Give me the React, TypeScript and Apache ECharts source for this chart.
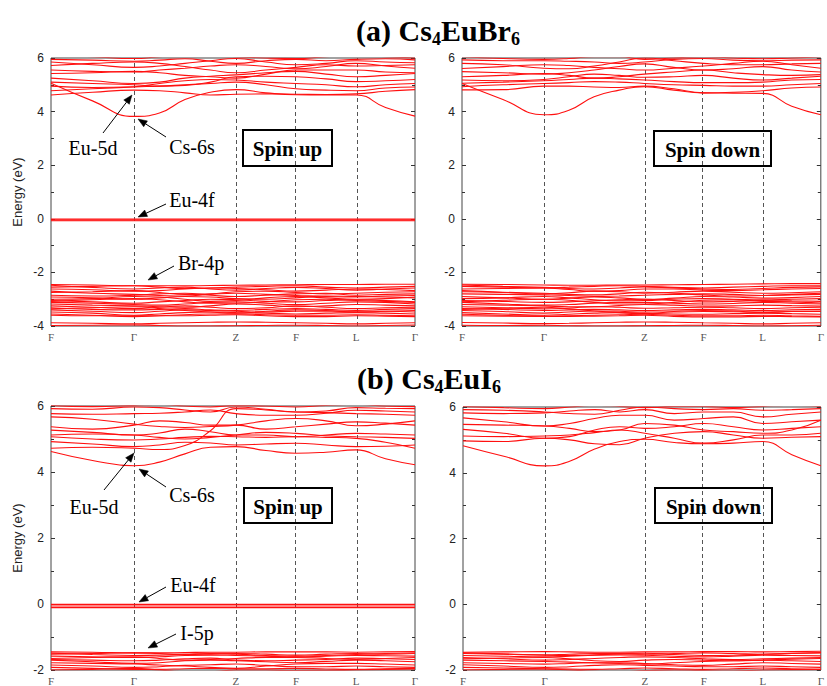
import React, { useEffect, useRef } from 'react';
import * as echarts from 'echarts';

// high-symmetry points along the path (normalized path length) and their labels
const kPoints = [0, 0.228, 0.508, 0.673, 0.838, 1.0];
const kLabels = ['F', 'Γ', 'Z', 'F', 'L', 'Γ'];
// sample positions along the path at which band energies are read
const kPath = [0, 0.114, 0.228, 0.298, 0.368, 0.438, 0.508, 0.5905, 0.673, 0.7555, 0.838, 0.919, 1.0];

// ---------- (a) Cs4EuBr6, spin up ----------
const brUpCond = [
  [5.06, 4.40, 3.82, 3.95, 4.45, 4.72, 4.82, 4.70, 4.63, 4.62, 4.62, 4.15, 3.83],
  [4.62, 4.72, 4.80, 4.78, 4.70, 4.62, 4.65, 4.66, 4.65, 4.64, 4.66, 4.76, 4.82],
  [4.78, 4.85, 4.92, 4.95, 5.00, 5.05, 5.10, 5.00, 4.85, 4.80, 4.78, 4.88, 4.92],
  [4.95, 4.90, 4.93, 5.05, 5.15, 5.20, 5.18, 5.10, 5.05, 5.00, 4.93, 5.00, 5.05],
  [5.10, 5.05, 5.00, 4.95, 4.98, 5.10, 5.30, 5.32, 5.30, 5.22, 5.12, 5.15, 5.20],
  [5.25, 5.15, 5.05, 5.10, 5.25, 5.32, 5.37, 5.45, 5.50, 5.40, 5.30, 5.35, 5.42],
  [5.42, 5.45, 5.50, 5.45, 5.35, 5.30, 5.25, 5.40, 5.55, 5.55, 5.55, 5.48, 5.45],
  [5.55, 5.50, 5.48, 5.55, 5.62, 5.70, 5.75, 5.68, 5.60, 5.68, 5.80, 5.70, 5.62],
  [5.72, 5.80, 5.85, 5.80, 5.68, 5.55, 5.45, 5.55, 5.65, 5.75, 5.70, 5.72, 5.75],
  [5.85, 5.75, 5.65, 5.70, 5.80, 5.90, 5.98, 5.85, 5.75, 5.80, 5.90, 5.85, 5.82],
  [5.95, 5.92, 5.88, 5.92, 5.97, 5.88, 5.80, 5.90, 5.95, 5.90, 5.95, 5.97, 5.93],
  [6.10, 6.05, 5.98, 6.05, 6.10, 6.10, 6.05, 6.00, 5.98, 6.05, 6.10, 6.05, 6.00],
];
const brUpF = [
  [-0.01, -0.01, -0.01, -0.01, -0.01, -0.01, -0.01, -0.01, -0.01, -0.01, -0.01, -0.01, -0.01],
  [-0.04, -0.04, -0.04, -0.04, -0.04, -0.04, -0.04, -0.04, -0.04, -0.04, -0.04, -0.04, -0.04],
  [-0.07, -0.07, -0.07, -0.07, -0.07, -0.07, -0.07, -0.07, -0.07, -0.07, -0.07, -0.07, -0.07],
];
const brUpVal = [
  [-2.45, -2.47, -2.50, -2.50, -2.50, -2.49, -2.48, -2.47, -2.46, -2.45, -2.45, -2.44, -2.44],
  [-2.48, -2.56, -2.62, -2.58, -2.55, -2.62, -2.66, -2.60, -2.56, -2.60, -2.66, -2.62, -2.58],
  [-2.55, -2.52, -2.50, -2.55, -2.60, -2.58, -2.55, -2.52, -2.50, -2.55, -2.58, -2.55, -2.52],
  [-2.62, -2.65, -2.70, -2.68, -2.62, -2.58, -2.60, -2.65, -2.70, -2.66, -2.62, -2.64, -2.68],
  [-2.70, -2.78, -2.82, -2.86, -2.88, -2.82, -2.78, -2.82, -2.86, -2.90, -2.92, -2.88, -2.86],
  [-2.75, -2.72, -2.68, -2.75, -2.82, -2.80, -2.72, -2.70, -2.75, -2.80, -2.78, -2.74, -2.72],
  [-2.85, -2.88, -2.85, -2.80, -2.78, -2.85, -2.90, -2.85, -2.80, -2.78, -2.85, -2.82, -2.80],
  [-2.92, -2.95, -3.00, -2.95, -2.90, -2.92, -2.98, -3.00, -2.95, -2.88, -2.90, -2.92, -2.95],
  [-3.00, -2.98, -2.90, -2.92, -3.00, -3.08, -3.05, -2.95, -2.90, -2.95, -3.00, -2.98, -2.92],
  [-3.05, -3.10, -3.15, -3.10, -3.05, -3.00, -3.02, -3.08, -3.10, -3.05, -3.02, -3.05, -3.10],
  [-3.08, -3.02, -2.98, -3.02, -3.10, -3.15, -3.15, -3.10, -3.02, -3.00, -3.05, -3.08, -3.12],
  [-3.12, -3.15, -3.20, -3.22, -3.18, -3.12, -3.10, -3.15, -3.20, -3.15, -3.10, -3.12, -3.18],
  [-3.18, -3.22, -3.25, -3.28, -3.30, -3.25, -3.18, -3.22, -3.28, -3.25, -3.20, -3.22, -3.25],
  [-3.25, -3.30, -3.35, -3.30, -3.25, -3.30, -3.35, -3.32, -3.25, -3.30, -3.35, -3.32, -3.30],
  [-3.32, -3.38, -3.40, -3.38, -3.35, -3.40, -3.42, -3.38, -3.35, -3.38, -3.42, -3.38, -3.35],
  [-3.36, -3.32, -3.28, -3.35, -3.42, -3.48, -3.52, -3.45, -3.40, -3.42, -3.48, -3.45, -3.42],
  [-3.40, -3.45, -3.50, -3.45, -3.40, -3.42, -3.45, -3.48, -3.45, -3.45, -3.45, -3.45, -3.48],
  [-3.48, -3.52, -3.60, -3.55, -3.50, -3.48, -3.50, -3.52, -3.55, -3.52, -3.50, -3.52, -3.55],
  [-3.55, -3.60, -3.65, -3.62, -3.58, -3.55, -3.55, -3.58, -3.60, -3.60, -3.58, -3.60, -3.62],
  [-3.60, -3.62, -3.62, -3.62, -3.62, -3.60, -3.58, -3.62, -3.65, -3.65, -3.62, -3.63, -3.65],
  [-3.88, -3.90, -3.92, -3.90, -3.88, -3.86, -3.85, -3.86, -3.88, -3.90, -3.92, -3.90, -3.88],
  [-3.98, -3.97, -3.96, -3.98, -4.00, -4.00, -3.99, -3.98, -3.97, -3.98, -4.00, -3.98, -3.96],
];

// ---------- (a) Cs4EuBr6, spin down ----------
const brDownCond = [
  [5.05, 4.45, 3.88, 4.05, 4.55, 4.80, 4.93, 4.80, 4.70, 4.69, 4.68, 4.20, 3.88],
  [4.81, 4.82, 4.95, 4.95, 4.92, 4.90, 4.95, 4.85, 4.70, 4.72, 4.78, 4.88, 4.92],
  [4.93, 5.00, 5.05, 5.08, 5.12, 5.10, 5.05, 5.00, 4.98, 4.95, 4.95, 5.00, 5.05],
  [5.06, 5.10, 5.15, 5.20, 5.25, 5.22, 5.18, 5.12, 5.08, 5.08, 5.10, 5.18, 5.20],
  [5.18, 5.15, 5.20, 5.30, 5.40, 5.35, 5.28, 5.30, 5.35, 5.25, 5.18, 5.25, 5.32],
  [5.30, 5.35, 5.42, 5.35, 5.25, 5.30, 5.40, 5.48, 5.55, 5.45, 5.38, 5.35, 5.38],
  [5.49, 5.45, 5.40, 5.45, 5.55, 5.68, 5.78, 5.65, 5.55, 5.60, 5.68, 5.55, 5.48],
  [5.61, 5.68, 5.75, 5.72, 5.65, 5.60, 5.55, 5.62, 5.70, 5.80, 5.88, 5.75, 5.62],
  [5.80, 5.75, 5.62, 5.60, 5.70, 5.85, 6.00, 5.90, 5.80, 5.75, 5.75, 5.78, 5.80],
  [5.93, 5.90, 5.90, 5.88, 5.85, 5.80, 5.85, 5.95, 5.98, 5.92, 5.90, 5.92, 5.93],
  [6.05, 5.98, 5.95, 5.98, 6.05, 6.05, 5.95, 6.00, 6.05, 6.00, 5.97, 6.00, 6.05],
];
const brDownVal = [
  [-2.44, -2.45, -2.47, -2.48, -2.48, -2.47, -2.47, -2.46, -2.45, -2.44, -2.43, -2.42, -2.42],
  [-2.47, -2.52, -2.56, -2.60, -2.62, -2.58, -2.54, -2.58, -2.62, -2.64, -2.60, -2.56, -2.54],
  [-2.52, -2.55, -2.58, -2.55, -2.52, -2.50, -2.52, -2.56, -2.58, -2.55, -2.52, -2.50, -2.50],
  [-2.62, -2.60, -2.58, -2.64, -2.70, -2.68, -2.62, -2.62, -2.66, -2.68, -2.65, -2.62, -2.60],
  [-2.68, -2.74, -2.78, -2.82, -2.84, -2.80, -2.74, -2.78, -2.84, -2.88, -2.86, -2.82, -2.78],
  [-2.72, -2.75, -2.80, -2.76, -2.70, -2.72, -2.78, -2.74, -2.70, -2.74, -2.78, -2.76, -2.72],
  [-2.80, -2.82, -2.84, -2.86, -2.90, -2.88, -2.85, -2.82, -2.80, -2.82, -2.86, -2.84, -2.82],
  [-2.90, -2.95, -3.00, -2.96, -2.92, -2.95, -3.00, -2.96, -2.90, -2.92, -2.96, -2.94, -2.90],
  [-2.98, -2.95, -2.90, -2.95, -3.02, -3.06, -3.05, -3.00, -2.98, -3.00, -3.02, -3.00, -2.98],
  [-3.05, -3.08, -3.12, -3.10, -3.06, -3.02, -3.00, -3.05, -3.10, -3.08, -3.05, -3.06, -3.08],
  [-3.10, -3.04, -3.00, -3.04, -3.12, -3.18, -3.18, -3.12, -3.04, -3.02, -3.08, -3.10, -3.14],
  [-3.12, -3.18, -3.22, -3.20, -3.15, -3.12, -3.12, -3.15, -3.18, -3.16, -3.12, -3.15, -3.18],
  [-3.20, -3.22, -3.25, -3.28, -3.28, -3.24, -3.20, -3.22, -3.26, -3.25, -3.22, -3.24, -3.26],
  [-3.28, -3.32, -3.36, -3.33, -3.28, -3.30, -3.34, -3.32, -3.30, -3.32, -3.35, -3.32, -3.30],
  [-3.35, -3.38, -3.42, -3.40, -3.38, -3.40, -3.42, -3.40, -3.38, -3.40, -3.42, -3.40, -3.38],
  [-3.38, -3.34, -3.30, -3.36, -3.44, -3.50, -3.54, -3.46, -3.42, -3.44, -3.50, -3.46, -3.44],
  [-3.42, -3.46, -3.52, -3.48, -3.44, -3.45, -3.48, -3.48, -3.46, -3.47, -3.48, -3.46, -3.46],
  [-3.50, -3.55, -3.60, -3.56, -3.52, -3.50, -3.52, -3.55, -3.56, -3.54, -3.52, -3.54, -3.56],
  [-3.56, -3.60, -3.64, -3.62, -3.60, -3.58, -3.56, -3.60, -3.62, -3.62, -3.60, -3.62, -3.64],
  [-3.62, -3.63, -3.64, -3.64, -3.63, -3.62, -3.60, -3.64, -3.66, -3.66, -3.64, -3.65, -3.66],
  [-3.87, -3.89, -3.91, -3.90, -3.88, -3.86, -3.85, -3.86, -3.88, -3.90, -3.92, -3.90, -3.88],
  [-3.97, -3.98, -3.97, -3.99, -4.00, -4.00, -3.99, -3.98, -3.97, -3.98, -4.00, -3.99, -3.97],
];

// ---------- (b) Cs4EuI6, spin up ----------
const iUpCond = [
  [4.62, 4.35, 4.19, 4.30, 4.55, 4.75, 4.77, 4.65, 4.57, 4.60, 4.67, 4.40, 4.22],
  [4.72, 4.75, 4.72, 4.68, 4.80, 5.25, 5.92, 5.88, 5.82, 5.80, 5.77, 5.75, 5.72],
  [4.92, 4.85, 4.77, 4.82, 4.90, 4.88, 4.82, 4.85, 4.87, 4.82, 4.77, 4.78, 4.82],
  [5.07, 5.00, 4.97, 5.00, 5.05, 5.08, 5.07, 5.05, 5.07, 5.05, 5.02, 4.90, 4.72],
  [5.12, 5.15, 5.12, 5.05, 5.00, 5.05, 5.12, 5.20, 5.17, 5.10, 5.07, 5.05, 5.02],
  [5.27, 5.20, 5.12, 5.18, 5.30, 5.22, 5.12, 5.12, 5.07, 5.12, 5.17, 5.15, 5.12],
  [5.37, 5.30, 5.42, 5.55, 5.50, 5.42, 5.42, 5.30, 5.37, 5.45, 5.52, 5.48, 5.42],
  [5.67, 5.60, 5.45, 5.38, 5.35, 5.38, 5.42, 5.55, 5.62, 5.55, 5.40, 5.45, 5.55],
  [5.77, 5.75, 5.77, 5.78, 5.82, 5.88, 5.77, 5.72, 5.72, 5.78, 5.87, 5.85, 5.82],
  [5.92, 5.90, 5.97, 5.95, 5.88, 5.82, 5.97, 5.90, 5.82, 5.85, 5.95, 5.93, 5.92],
  [6.02, 5.98, 6.02, 6.05, 6.00, 5.97, 6.02, 6.00, 5.97, 6.02, 6.05, 6.00, 5.98],
];
const iUpF = [
  [-0.01, -0.01, -0.01, -0.01, -0.01, -0.01, -0.01, -0.01, -0.01, -0.01, -0.01, -0.01, -0.01],
  [-0.06, -0.06, -0.06, -0.06, -0.06, -0.06, -0.06, -0.06, -0.06, -0.06, -0.06, -0.06, -0.06],
  [-0.11, -0.11, -0.11, -0.11, -0.11, -0.11, -0.11, -0.11, -0.11, -0.11, -0.11, -0.11, -0.11],
];
const iUpVal = [
  [-1.45, -1.46, -1.48, -1.48, -1.47, -1.46, -1.46, -1.45, -1.45, -1.45, -1.46, -1.45, -1.44],
  [-1.49, -1.53, -1.56, -1.55, -1.52, -1.50, -1.52, -1.56, -1.58, -1.56, -1.53, -1.50, -1.48],
  [-1.52, -1.50, -1.48, -1.50, -1.53, -1.52, -1.50, -1.52, -1.55, -1.52, -1.50, -1.52, -1.50],
  [-1.58, -1.60, -1.62, -1.60, -1.56, -1.55, -1.56, -1.58, -1.60, -1.58, -1.56, -1.57, -1.58],
  [-1.65, -1.62, -1.60, -1.65, -1.70, -1.68, -1.65, -1.62, -1.62, -1.65, -1.68, -1.65, -1.62],
  [-1.68, -1.70, -1.72, -1.70, -1.66, -1.64, -1.70, -1.72, -1.70, -1.68, -1.64, -1.66, -1.68],
  [-1.70, -1.75, -1.80, -1.78, -1.72, -1.70, -1.72, -1.75, -1.78, -1.74, -1.70, -1.72, -1.75],
  [-1.78, -1.80, -1.82, -1.85, -1.88, -1.92, -1.95, -1.88, -1.82, -1.80, -1.80, -1.82, -1.85],
  [-1.85, -1.88, -1.92, -1.90, -1.86, -1.84, -1.82, -1.86, -1.90, -1.90, -1.88, -1.90, -1.92],
  [-1.92, -1.95, -1.98, -1.98, -1.96, -1.95, -1.96, -1.96, -1.95, -1.97, -1.98, -1.96, -1.95],
  [-2.00, -1.98, -1.95, -2.00, -2.05, -2.05, -2.00, -2.00, -2.02, -2.02, -2.00, -1.98, -1.97],
];

// ---------- (b) Cs4EuI6, spin down ----------
const iDownCond = [
  [4.82, 4.50, 4.21, 4.35, 4.72, 4.95, 5.02, 4.92, 4.88, 4.90, 4.95, 4.55, 4.21],
  [4.97, 4.95, 5.05, 5.00, 4.88, 4.85, 5.05, 5.20, 5.25, 5.15, 5.05, 5.08, 5.10],
  [5.12, 5.10, 5.12, 5.15, 5.22, 5.30, 5.20, 5.05, 4.90, 5.00, 5.15, 5.15, 5.20],
  [5.32, 5.20, 5.05, 5.10, 5.30, 5.40, 5.35, 5.40, 5.50, 5.40, 5.30, 5.35, 5.40],
  [5.47, 5.45, 5.42, 5.35, 5.25, 5.30, 5.50, 5.45, 5.30, 5.25, 5.20, 5.30, 5.60],
  [5.67, 5.55, 5.42, 5.50, 5.65, 5.75, 5.75, 5.60, 5.65, 5.70, 5.50, 5.55, 5.60],
  [5.82, 5.80, 5.82, 5.88, 5.92, 5.85, 5.92, 5.80, 5.85, 5.85, 5.70, 5.78, 5.85],
  [5.92, 5.90, 5.85, 5.80, 5.78, 5.90, 6.00, 5.95, 5.92, 5.95, 5.90, 5.92, 5.95],
  [6.02, 5.98, 5.95, 6.00, 6.05, 6.02, 5.98, 6.02, 6.02, 5.98, 6.02, 6.05, 6.02],
];
const iDownVal = [
  [-1.46, -1.45, -1.44, -1.45, -1.46, -1.46, -1.45, -1.45, -1.44, -1.44, -1.45, -1.44, -1.43],
  [-1.48, -1.51, -1.55, -1.56, -1.54, -1.51, -1.49, -1.53, -1.56, -1.55, -1.52, -1.49, -1.47],
  [-1.50, -1.52, -1.54, -1.52, -1.50, -1.50, -1.52, -1.50, -1.48, -1.50, -1.52, -1.50, -1.48],
  [-1.56, -1.58, -1.60, -1.58, -1.55, -1.54, -1.55, -1.58, -1.60, -1.58, -1.55, -1.56, -1.57],
  [-1.62, -1.66, -1.70, -1.68, -1.65, -1.62, -1.60, -1.62, -1.66, -1.68, -1.66, -1.64, -1.62],
  [-1.66, -1.64, -1.62, -1.66, -1.72, -1.74, -1.70, -1.68, -1.70, -1.72, -1.70, -1.67, -1.65],
  [-1.70, -1.72, -1.74, -1.76, -1.78, -1.80, -1.82, -1.78, -1.74, -1.72, -1.70, -1.72, -1.74],
  [-1.78, -1.80, -1.82, -1.80, -1.78, -1.78, -1.80, -1.84, -1.86, -1.82, -1.78, -1.80, -1.82],
  [-1.84, -1.88, -1.92, -1.90, -1.86, -1.84, -1.86, -1.88, -1.90, -1.90, -1.88, -1.90, -1.92],
  [-1.92, -1.94, -1.96, -1.97, -1.98, -1.96, -1.94, -1.96, -1.98, -1.96, -1.94, -1.96, -1.98],
  [-2.00, -1.98, -1.97, -2.00, -2.04, -2.05, -2.02, -2.00, -2.02, -2.03, -2.00, -1.99, -1.98],
];

const SERIF = '"Liberation Serif", "Times New Roman", Times, serif';
const SANS = '"Liberation Sans", Arial, Helvetica, sans-serif';
const RED = '#ff1010';

const panels = [
  { grid: { left: 51, top: 58, width: 364, height: 268 }, yMin: -4, yMax: 6, showName: true, bands: [...brUpCond, ...brUpF, ...brUpVal] },
  { grid: { left: 462, top: 58, width: 364, height: 268 }, yMin: -4, yMax: 6, showName: false, bands: [...brDownCond, ...brDownVal] },
  { grid: { left: 51, top: 406, width: 364, height: 267 }, yMin: -2, yMax: 6, showName: true, bands: [...iUpCond, ...iUpF, ...iUpVal] },
  { grid: { left: 463, top: 407, width: 363, height: 268 }, yMin: -2, yMax: 6, showName: false, bands: [...iDownCond, ...iDownVal] },
];

const boxes = [
  { x: 243, y: 130, w: 89, h: 36, text: 'Spin up' },
  { x: 654, y: 131, w: 117, h: 35, text: 'Spin down' },
  { x: 244, y: 488, w: 88, h: 35, text: 'Spin up' },
  { x: 655, y: 488, w: 117, h: 35, text: 'Spin down' },
];

const notes = [
  { text: 'Eu-5d', x: 93, y: 148, from: [103, 133], to: [132, 95] },
  { text: 'Cs-6s', x: 192, y: 147, from: [166, 137], to: [138, 119] },
  { text: 'Eu-4f', x: 192, y: 200, from: [166, 204], to: [138, 217] },
  { text: 'Br-4p', x: 201, y: 263, from: [174, 266], to: [148, 280] },
  { text: 'Eu-5d', x: 94, y: 507, from: [104, 490], to: [134, 453] },
  { text: 'Cs-6s', x: 192, y: 495, from: [166, 487], to: [139, 469] },
  { text: 'Eu-4f', x: 193, y: 585, from: [166, 587], to: [139, 602] },
  { text: 'I-5p', x: 197, y: 633, from: [176, 634], to: [148, 648] },
];

function arrow(from: number[], to: number[]) {
  const [x1, y1] = from;
  const [x2, y2] = to;
  const ang = Math.atan2(y2 - y1, x2 - x1);
  const L = 9;
  const W = 3.5;
  const bx = x2 - L * Math.cos(ang);
  const by = y2 - L * Math.sin(ang);
  const px = -Math.sin(ang) * W;
  const py = Math.cos(ang) * W;
  return [
    { type: 'line', shape: { x1, y1, x2: bx, y2: by }, style: { stroke: '#000', lineWidth: 1 } },
    {
      type: 'polygon',
      shape: { points: [[x2, y2], [bx + px, by + py], [bx - px, by - py]] },
      style: { fill: '#000', stroke: '#000', lineWidth: 0.5 },
    },
  ];
}

function labelFor(v: number) {
  let best = 0;
  for (let i = 1; i < kPoints.length; i++) {
    if (Math.abs(kPoints[i] - v) < Math.abs(kPoints[best] - v)) best = i;
  }
  return kLabels[best];
}

function buildOption() {
  const grid: any[] = [];
  const xAxis: any[] = [];
  const yAxis: any[] = [];
  const series: any[] = [];

  panels.forEach((p, i) => {
    grid.push({ ...p.grid, show: true, borderColor: '#444', borderWidth: 1, backgroundColor: 'transparent' });
    xAxis.push({
      type: 'value',
      gridIndex: i,
      min: 0,
      max: 1,
      axisLine: { show: false },
      axisTick: { show: false },
      splitLine: { show: false },
      axisLabel: {
        customValues: kPoints,
        formatter: (v: number) => labelFor(v),
        fontFamily: SERIF,
        fontSize: 11,
        color: '#555',
        margin: 5,
      },
    });
    const tickStyle = { color: '#333', width: 1 };
    yAxis.push({
      type: 'value',
      gridIndex: i,
      min: p.yMin,
      max: p.yMax,
      interval: 2,
      position: 'left',
      name: p.showName ? 'Energy (eV)' : '',
      nameLocation: 'middle',
      nameGap: 27,
      nameTextStyle: { fontFamily: SANS, fontSize: 13, color: '#222' },
      axisLine: { show: false },
      axisTick: { show: true, inside: true, length: 4, lineStyle: tickStyle },
      minorTick: { show: true, splitNumber: 2, length: 3, lineStyle: tickStyle },
      splitLine: { show: false },
      minorSplitLine: { show: false },
      axisLabel: { fontFamily: SANS, fontSize: 12, color: '#222', margin: 7 },
    });
    yAxis.push({
      type: 'value',
      gridIndex: i,
      min: p.yMin,
      max: p.yMax,
      interval: 2,
      position: 'right',
      axisLine: { show: false },
      axisTick: { show: true, inside: true, length: 4, lineStyle: tickStyle },
      minorTick: { show: true, splitNumber: 2, length: 3, lineStyle: tickStyle },
      splitLine: { show: false },
      axisLabel: { show: false },
    });

    p.bands.forEach((band, b) => {
      const s: any = {
        type: 'line',
        xAxisIndex: i,
        yAxisIndex: 2 * i,
        data: kPath.map((k, j) => [k, band[j]]),
        smooth: 0.5,
        symbol: 'none',
        silent: true,
        clip: true,
        lineStyle: { color: RED, width: 1.1 },
        z: 3,
      };
      if (b === 0) {
        s.markLine = {
          symbol: 'none',
          silent: true,
          label: { show: false },
          lineStyle: { type: [4, 3], color: '#555', width: 1 },
          data: kPoints.slice(1, 5).map((v) => ({ xAxis: v })),
          z: 2,
        };
      }
      series.push(s);
    });
  });

  const graphic: any[] = [];
  const titleRich = {
    s: { fontFamily: SERIF, fontSize: 18, fontWeight: 'bold', fill: '#000', padding: [18, 0, 0, 0] },
  };
  graphic.push({
    type: 'text',
    x: 438,
    y: 30,
    style: {
      text: '(a) Cs{s|4}EuBr{s|6}',
      rich: titleRich,
      fontFamily: SERIF,
      fontSize: 30,
      fontWeight: 'bold',
      fill: '#000',
      align: 'center',
      verticalAlign: 'middle',
    },
  });
  graphic.push({
    type: 'text',
    x: 429,
    y: 378,
    style: {
      text: '(b) Cs{s|4}EuI{s|6}',
      rich: titleRich,
      fontFamily: SERIF,
      fontSize: 30,
      fontWeight: 'bold',
      fill: '#000',
      align: 'center',
      verticalAlign: 'middle',
    },
  });

  boxes.forEach((bx) => {
    graphic.push({
      type: 'rect',
      shape: { x: bx.x, y: bx.y, width: bx.w, height: bx.h },
      style: { fill: 'none', stroke: '#000', lineWidth: 2 },
      z: 10,
    });
    graphic.push({
      type: 'text',
      x: bx.x + bx.w / 2,
      y: bx.y + bx.h / 2 + 1,
      style: {
        text: bx.text,
        fontFamily: SERIF,
        fontSize: 21,
        fontWeight: 'bold',
        fill: '#000',
        align: 'center',
        verticalAlign: 'middle',
      },
      z: 10,
    });
  });

  notes.forEach((n) => {
    graphic.push({
      type: 'text',
      x: n.x,
      y: n.y,
      style: {
        text: n.text,
        fontFamily: SERIF,
        fontSize: 20,
        fill: '#000',
        align: 'center',
        verticalAlign: 'middle',
      },
      z: 10,
    });
    arrow(n.from, n.to).forEach((g) => graphic.push({ ...g, z: 10 }));
  });

  return {
    animation: false,
    backgroundColor: '#fff',
    grid,
    xAxis,
    yAxis,
    series,
    graphic,
  };
}

export default function App() {
  const ref = useRef<HTMLDivElement>(null);
  useEffect(() => {
    const chart = echarts.init(ref.current!, null, { renderer: 'svg' });
    chart.setOption(buildOption() as any);
    return () => chart.dispose();
  }, []);
  return (
    <div
      ref={ref}
      style={{ position: 'fixed', left: 0, top: 0, width: 827, height: 686, background: '#fff' }}
    />
  );
}
